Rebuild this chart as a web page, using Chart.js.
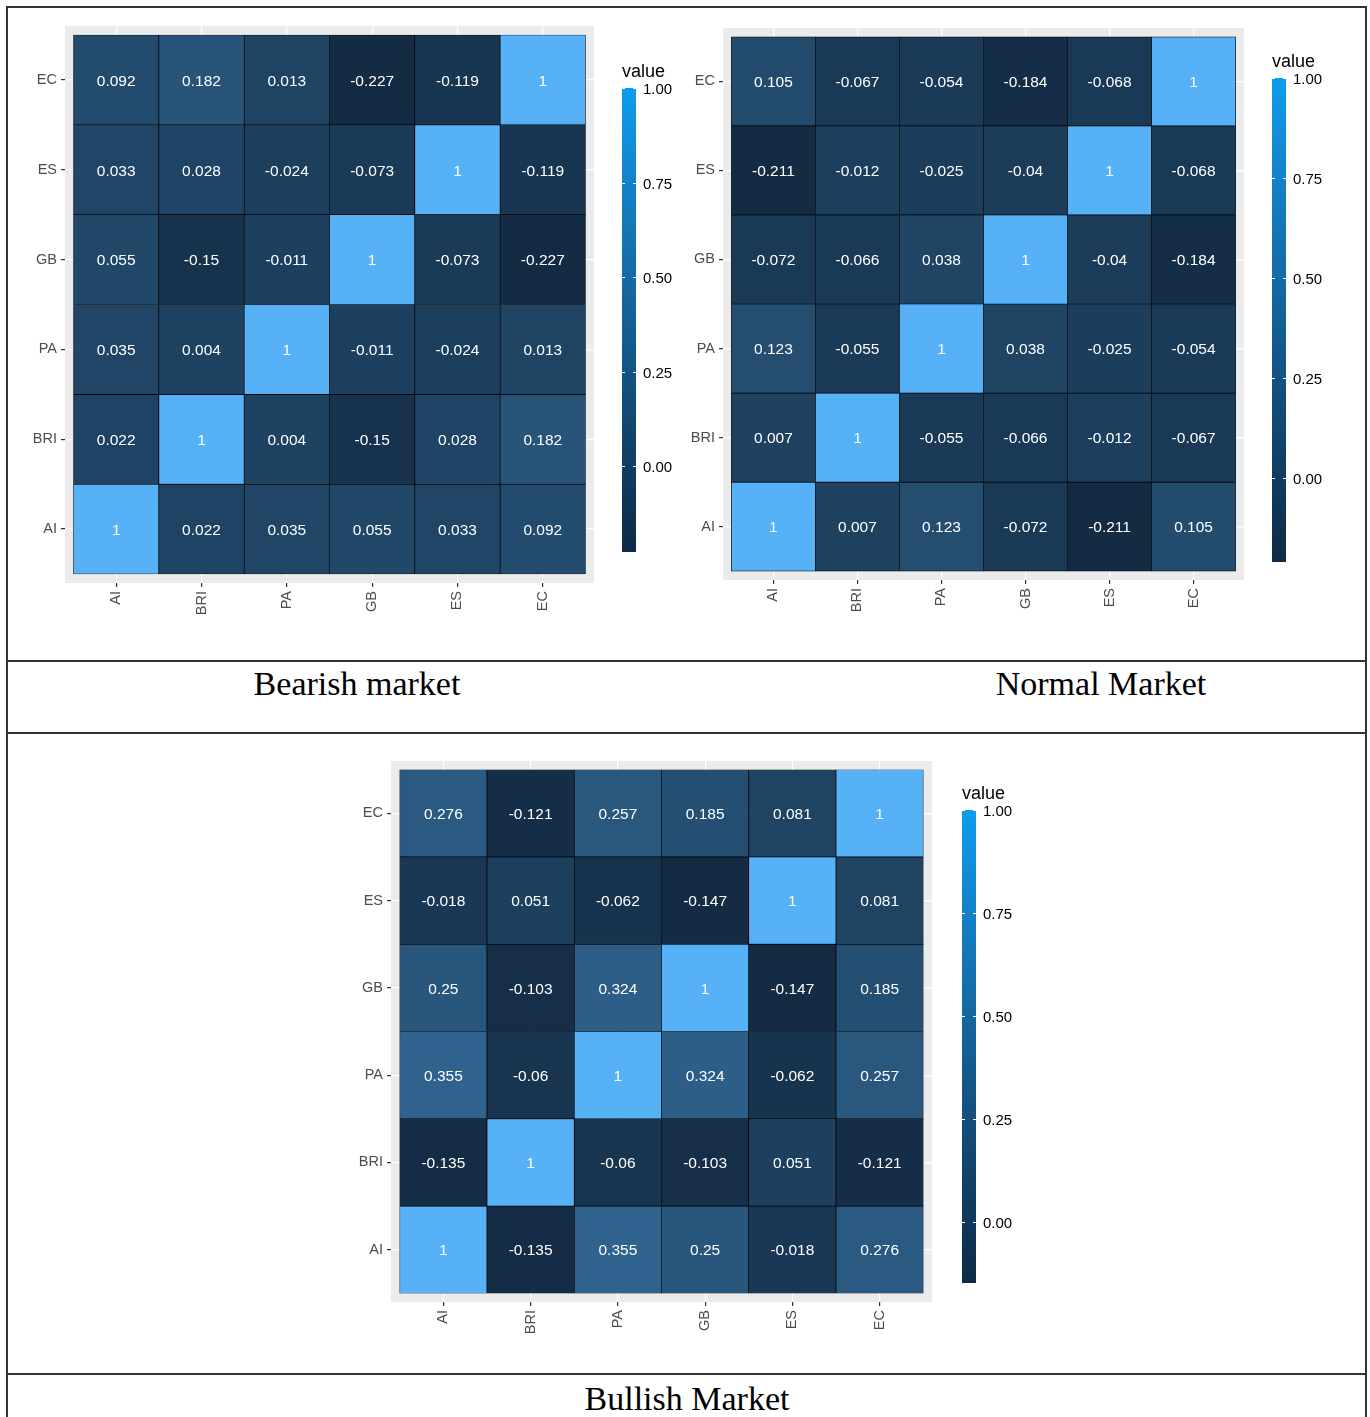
<!DOCTYPE html>
<html>
<head>
<meta charset="utf-8">
<script src="https://cdn.jsdelivr.net/npm/chart.js@4.4.1/dist/chart.umd.min.js"></script>
<style>
  html, body { margin: 0; padding: 0; background: #fff; }
  #wrap { position: relative; width: 1370px; height: 1417px; overflow: hidden; background: #fff; }
  .line { position: absolute; background: #333; z-index: 5; }
  .cap { position: absolute; font-family: "Liberation Serif", "Times New Roman", serif; font-size: 34px; line-height: 34px; color: #000; white-space: nowrap; transform: translateX(-50%); }
  canvas { position: absolute; }
</style>
</head>
<body>
<div id="wrap">
  <div class="line" style="left:6px;top:6px;width:1361px;height:2px"></div>
  <div class="line" style="left:6px;top:6px;width:2px;height:1411px"></div>
  <div class="line" style="left:1365px;top:6px;width:2px;height:1411px"></div>
  <div class="line" style="left:6px;top:660px;width:1361px;height:2px"></div>
  <div class="line" style="left:6px;top:732px;width:1361px;height:2px"></div>
  <div class="line" style="left:6px;top:1373px;width:1361px;height:2px"></div>
</div>
<script>
// ---------------- DATA ----------------
const variables = ['AI', 'BRI', 'PA', 'GB', 'ES', 'EC'];
// rows in order AI, BRI, PA, GB, ES, EC ; columns in same order
const bearishValues = [
  [1, 0.022, 0.035, 0.055, 0.033, 0.092],
  [0.022, 1, 0.004, -0.15, 0.028, 0.182],
  [0.035, 0.004, 1, -0.011, -0.024, 0.013],
  [0.055, -0.15, -0.011, 1, -0.073, -0.227],
  [0.033, 0.028, -0.024, -0.073, 1, -0.119],
  [0.092, 0.182, 0.013, -0.227, -0.119, 1]
];
const normalValues = [
  [1, 0.007, 0.123, -0.072, -0.211, 0.105],
  [0.007, 1, -0.055, -0.066, -0.012, -0.067],
  [0.123, -0.055, 1, 0.038, -0.025, -0.054],
  [-0.072, -0.066, 0.038, 1, -0.04, -0.184],
  [-0.211, -0.012, -0.025, -0.04, 1, -0.068],
  [0.105, -0.067, -0.054, -0.184, -0.068, 1]
];
const bullishValues = [
  [1, -0.135, 0.355, 0.25, -0.018, 0.276],
  [-0.135, 1, -0.06, -0.103, 0.051, -0.121],
  [0.355, -0.06, 1, 0.324, -0.062, 0.257],
  [0.25, -0.103, 0.324, 1, -0.147, 0.185],
  [-0.018, 0.051, -0.062, -0.147, 1, 0.081],
  [0.276, -0.121, 0.257, 0.185, 0.081, 1]
];
const legendBreaks = [0, 0.25, 0.5, 0.75, 1];
const legendTitle = 'value';
const captions = ['Bearish market', 'Normal Market', 'Bullish Market'];

// ---------------- COLOUR (CIELAB ramp like ggplot) ----------------
function hexToRgb(h){ h=h.replace('#',''); return [parseInt(h.substr(0,2),16),parseInt(h.substr(2,2),16),parseInt(h.substr(4,2),16)]; }
function lin(c){ c/=255; return c<=0.04045? c/12.92 : Math.pow((c+0.055)/1.055,2.4); }
function delin(c){ c = c<=0.0031308? 12.92*c : 1.055*Math.pow(c,1/2.4)-0.055; return Math.max(0,Math.min(255,Math.round(c*255))); }
const WN=[0.95047,1,1.08883];
function f(t){ return t>0.008856? Math.cbrt(t) : 7.787*t+16/116; }
function finv(t){ return t*t*t>0.008856? t*t*t : (t-16/116)/7.787; }
function rgbToLab(rgb){
  const [r,g,b]=rgb.map(lin);
  const X=(0.4124*r+0.3576*g+0.1805*b)/WN[0], Y=(0.2126*r+0.7152*g+0.0722*b)/WN[1], Z=(0.0193*r+0.1192*g+0.9505*b)/WN[2];
  const fx=f(X), fy=f(Y), fz=f(Z);
  return [116*fy-16, 500*(fx-fy), 200*(fy-fz)];
}
function labToRgb(lab){
  const fy=(lab[0]+16)/116, fx=fy+lab[1]/500, fz=fy-lab[2]/200;
  const X=finv(fx)*WN[0], Y=finv(fy)*WN[1], Z=finv(fz)*WN[2];
  const r= 3.2406*X-1.5372*Y-0.4986*Z, g=-0.9689*X+1.8758*Y+0.0415*Z, b=0.0557*X-0.2040*Y+1.0570*Z;
  return [delin(r),delin(g),delin(b)];
}
function ramp(lowHex, highHex){
  const a=rgbToLab(hexToRgb(lowHex)), b=rgbToLab(hexToRgb(highHex));
  return t => { t=Math.max(0,Math.min(1,t)); const c=labToRgb([a[0]+(b[0]-a[0])*t, a[1]+(b[1]-a[1])*t, a[2]+(b[2]-a[2])*t]); return 'rgb('+c.join(',')+')'; };
}
const cellRamp = ramp('#132B43', '#56B1F7');
const barRamp = ramp('#0D2A46', '#0E9CEE');

// ---------------- PLUGINS ----------------
const panelBg = {
  id: 'panelBg',
  beforeDraw(chart){
    const a=chart.chartArea, ctx=chart.ctx;
    ctx.save(); ctx.fillStyle='#EBEBEB'; ctx.fillRect(a.left,a.top,a.right-a.left,a.bottom-a.top); ctx.restore();
  }
};
const cellLabels = {
  id: 'cellLabels',
  afterDatasetsDraw(chart){
    const ctx=chart.ctx, meta=chart.getDatasetMeta(0), ds=chart.data.datasets[0];
    ctx.save();
    ctx.fillStyle='#FFFFFF'; ctx.font='15.5px "Liberation Sans", Arial, sans-serif';
    ctx.textAlign='center'; ctx.textBaseline='middle';
    meta.data.forEach((el,i)=>{ const p=el.getCenterPoint(); ctx.fillText(String(ds.data[i].v), p.x, p.y+1.5); });
    ctx.restore();
  }
};
const colorbar = {
  id: 'colorbar',
  afterDraw(chart, args, o){
    const ctx=chart.ctx;
    const x=o.x, top=o.top, bot=o.bottom, w=14, lo=o.min;
    const yOf = v => top + (1-v)/(1-lo)*(bot-top);
    ctx.save();
    const g=ctx.createLinearGradient(0,top,0,bot);
    for(let i=0;i<=40;i++){ const t=i/40; g.addColorStop(t, barRamp(1-t)); }
    ctx.fillStyle=g; ctx.fillRect(x,top,w,bot-top);
    ctx.strokeStyle='#FFFFFF'; ctx.lineWidth=1;
    ctx.fillStyle='#000'; ctx.font='15px "Liberation Sans", Arial, sans-serif';
    ctx.textAlign='left'; ctx.textBaseline='middle';
    legendBreaks.forEach(v=>{
      const y=Math.round(yOf(v))+0.5;
      ctx.beginPath(); ctx.moveTo(x,y); ctx.lineTo(x+3,y); ctx.moveTo(x+w-3,y); ctx.lineTo(x+w,y); ctx.stroke();
      ctx.fillText(v.toFixed(2), x+w+7, y+1);
    });
    ctx.font='18px "Liberation Sans", Arial, sans-serif'; ctx.textBaseline='alphabetic';
    ctx.fillText(legendTitle, x, top-11);
    ctx.restore();
  }
};

// ---------------- CHARTS ----------------
const wrap=document.getElementById('wrap');
const AXIS_W=40, AXIS_H=50;
const fontFam='"Liberation Sans", Arial, sans-serif';

function makeHeatmap(values, canvasBox, panel, legend){
  const cv=document.createElement('canvas');
  cv.width=canvasBox.w; cv.height=canvasBox.h;
  cv.style.left=canvasBox.x+'px'; cv.style.top=canvasBox.y+'px';
  wrap.appendChild(cv);
  const lo=Math.min(...values.flat());
  const pts=[];
  values.forEach((row,r)=>row.forEach((v,c)=>pts.push({x:c+0.5, y:[r,r+1], v:v})));
  const axisCommon = () => ({
    type:'linear', min:-0.1, max:6.1, offset:false,
    afterBuildTicks: s => { s.ticks = variables.map((_,i)=>({value:i+0.5})); },
    ticks:{ autoSkip:false, color:'#4D4D4D', font:{family:fontFam, size:14.5}, padding:4,
            callback: v => variables[Math.round(v-0.5)] },
    grid:{ offset:false, color:'#FFFFFF', lineWidth:1.2, tickColor:'#333333', tickLength:4, drawTicks:true },
    border:{ display:false }
  });
  const xAxis = axisCommon(); xAxis.afterFit = s=>{ s.height=AXIS_H; }; xAxis.ticks.minRotation=90; xAxis.ticks.maxRotation=90;
  const yAxis = axisCommon(); yAxis.afterFit = s=>{ s.width=AXIS_W; };
  new Chart(cv, {
    type:'bar',
    data:{ datasets:[{
      data: pts,
      backgroundColor: ctx => ctx.raw ? cellRamp((ctx.raw.v-lo)/(1-lo)) : '#000',
      borderColor:'#000000', borderWidth:0.7, borderSkipped:false,
      barPercentage:1, categoryPercentage:1
    }]},
    options:{
      responsive:false, animation:false, devicePixelRatio:1,
      layout:{ padding:{
        left: panel.l-canvasBox.x-AXIS_W,
        top: panel.t-canvasBox.y,
        right: canvasBox.x+canvasBox.w-panel.r,
        bottom: canvasBox.y+canvasBox.h-panel.b-AXIS_H } },
      plugins:{ legend:{display:false}, tooltip:{enabled:false},
        colorbar:{ x:legend.x-canvasBox.x, top:legend.top-canvasBox.y, bottom:legend.bottom-canvasBox.y, min:lo } },
      scales:{ x: xAxis, y: yAxis }
    },
    plugins:[panelBg, cellLabels, colorbar]
  });
}

makeHeatmap(bearishValues, {x:9,y:9,w:680,h:650}, {l:65,t:26,r:594,b:583}, {x:622,top:88,bottom:552});
makeHeatmap(normalValues, {x:675,y:9,w:689,h:650}, {l:723,t:28,r:1244,b:580}, {x:1272,top:78,bottom:562});
makeHeatmap(bullishValues, {x:300,y:740,w:760,h:630}, {l:391,t:761,r:932,b:1302}, {x:962,top:810,bottom:1283});

// captions
[[captions[0],357,667],[captions[1],1101,667],[captions[2],687,1382]].forEach(([t,x,y])=>{
  const d=document.createElement('div'); d.className='cap'; d.textContent=t;
  d.style.left=x+'px'; d.style.top=y+'px'; wrap.appendChild(d);
});
</script>
</body>
</html>
